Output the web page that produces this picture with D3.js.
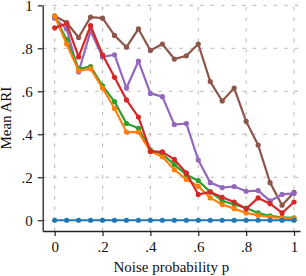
<!DOCTYPE html>
<html lang="en">
<head>
  <meta charset="UTF-8">
  <title></title>
  <style>
    html, body {
      margin: 0;
      background: #fff;
      overflow: hidden;
    }
    svg {
      display: block;
      font-family: "Liberation Serif", "DejaVu Serif", serif;
    }
    .tick text {
      font-size: 15px;
      fill: #111;
    }
  </style>
</head>
<body>
  <svg width="306" height="276"></svg>
</body>
<script src="https://d3js.org/d3.v7.min.js"></script>
<script type="text/javascript">
  // noise probability p
  const noise = [0, 0.05, 0.1, 0.15, 0.2, 0.25, 0.3, 0.35, 0.4, 0.45, 0.5,
                 0.55, 0.6, 0.65, 0.7, 0.75, 0.8, 0.85, 0.9, 0.95, 1]

  const brown  = [0.95, 0.92, 0.85, 0.945, 0.94, 0.86, 0.805, 0.89, 0.79, 0.82, 0.75,
                  0.765, 0.82, 0.645, 0.555, 0.615, 0.46, 0.35, 0.175, 0.07, 0.13]
  const purple = [0.94, 0.89, 0.69, 0.88, 0.76, 0.77, 0.615, 0.74, 0.59, 0.575, 0.445,
                  0.45, 0.28, 0.175, 0.152, 0.157, 0.135, 0.138, 0.09, 0.12, 0.125]
  const green  = [0.95, 0.84, 0.705, 0.715, 0.625, 0.552, 0.45, 0.428, 0.327, 0.308, 0.259,
                  0.212, 0.184, 0.132, 0.091, 0.073, 0.057, 0.034, 0.02, 0.014, 0.011]
  const orange = [0.95, 0.82, 0.695, 0.705, 0.615, 0.52, 0.41, 0.41, 0.32, 0.295, 0.235,
                  0.19, 0.158, 0.104, 0.073, 0.054, 0.034, 0.023, 0.015, 0.01, 0.008]
  const red    = [0.895, 0.915, 0.76, 0.905, 0.77, 0.665, 0.56, 0.48, 0.32, 0.318, 0.283,
                  0.22, 0.12, 0.132, 0.107, 0.085, 0.053, 0.104, 0.077, 0.034, 0.085]
  const blue   = [0, 0, 0, 0, 0, 0, 0, 0, 0, 0, 0,
                  0, 0, 0, 0, 0, 0, 0, 0, 0, 0]

  const ticks = [0, 0.2, 0.4, 0.6, 0.8, 1]
  const tickLabels = ['0', '.2', '.4', '.6', '.8', '1']

  // drawing order, last on top
  const series = [
    { values: brown, color: '#8c564b' },
    { values: purple, color: '#9467bd' },
    { values: green, color: '#2ca02c' },
    { values: orange, color: '#ff7f0e' },
    { values: red, color: '#d62728' },
    { values: blue, color: '#1f77b4' }
  ]

  const svg = d3.select('svg')
  const plot = { left: 42.7, right: 300, top: 5.3, bottom: 231 }

  const x = d3.scaleLinear().domain([-0.05, 1.025]).range([plot.left, plot.right])
  const y = d3.scaleLinear().domain([-0.05, 1]).range([plot.bottom, plot.top])

  // grid
  const grid = svg.append('g')
    .attr('stroke', '#b5b5b5')
    .attr('stroke-width', 1)
    .attr('stroke-dasharray', '3.5,7')
  grid.selectAll('line.v')
    .data(ticks)
    .enter()
    .append('line')
    .attr('class', 'v')
    .attr('x1', d => x(d))
    .attr('x2', d => x(d))
    .attr('y1', plot.bottom)
    .attr('y2', plot.top)
  grid.selectAll('line.h')
    .data(ticks)
    .enter()
    .append('line')
    .attr('class', 'h')
    .attr('x1', plot.left)
    .attr('x2', plot.right)
    .attr('y1', d => y(d))
    .attr('y2', d => y(d))

  const xAxis = svg.append('g')
    .attr('transform', 'translate(0,' + plot.bottom + ')')
    .call(d3.axisBottom(x).tickValues(ticks).tickFormat((d, i) => tickLabels[i])
      .tickSize(5).tickPadding(5).tickSizeOuter(0))
  const yAxis = svg.append('g')
    .attr('transform', 'translate(' + plot.left + ',0)')
    .call(d3.axisLeft(y).tickValues(ticks).tickFormat((d, i) => tickLabels[i])
      .tickSize(5).tickPadding(5).tickSizeOuter(0))

  ;[xAxis, yAxis].forEach(a => {
    a.attr('font-family', null).attr('font-size', null)
    a.select('.domain').attr('stroke', '#222').attr('stroke-width', 1.3)
    a.selectAll('.tick line').attr('stroke', '#222').attr('stroke-width', 1.2)
  })

  // lines + markers
  const line = d3.line()
    .x((d, i) => x(noise[i]))
    .y(d => y(d))

  series.forEach(s => {
    const g = svg.append('g')
    g.append('path')
      .datum(s.values)
      .attr('d', line)
      .attr('fill', 'none')
      .attr('stroke', s.color)
      .attr('stroke-width', 2.2)
      .attr('stroke-linejoin', 'round')
    g.selectAll('circle')
      .data(s.values)
      .enter()
      .append('circle')
      .attr('cx', (d, i) => x(noise[i]))
      .attr('cy', d => y(d))
      .attr('r', 2.6)
      .attr('fill', s.color)
  })

  // axis labels
  svg.append('text')
    .attr('x', (plot.left + plot.right) / 2)
    .attr('y', 272)
    .attr('text-anchor', 'middle')
    .attr('font-size', 15)
    .attr('fill', '#111')
    .text('Noise probability p')

  svg.append('text')
    .attr('transform', 'translate(11,' + ((plot.top + plot.bottom) / 2) + ') rotate(-90)')
    .attr('text-anchor', 'middle')
    .attr('font-size', 15)
    .attr('fill', '#111')
    .text('Mean ARI')
</script>
</html>
